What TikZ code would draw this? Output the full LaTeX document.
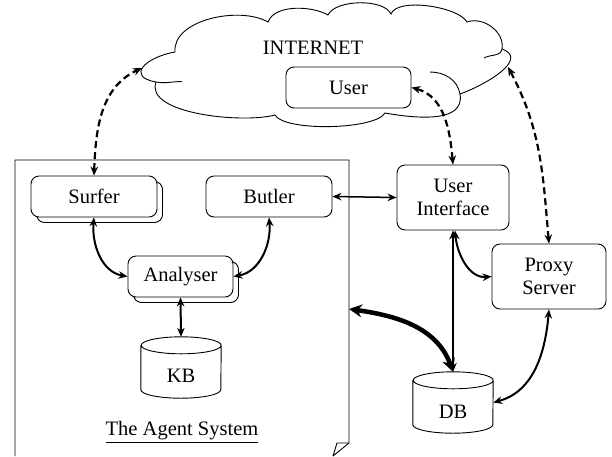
\documentclass[tikz,border=0pt]{standalone}
\usepackage{fontspec}
\setmainfont{Liberation Serif}
\usetikzlibrary{arrows.meta,shadows}
\begin{document}
\begin{tikzpicture}[x=1pt,y=1pt,
  font=\fontsize{20.5}{23}\selectfont,
  box/.style={draw, rounded corners=8pt, line width=0.9pt, fill=white, inner sep=0pt, align=center},
  shbox/.style={box, copy shadow={shadow xshift=5.5pt, shadow yshift=-5.5pt}},
  cylbox/.style={inner sep=0pt, minimum width=80pt, minimum height=61pt},
  conn/.style={line width=2pt, {Stealth[length=9pt,width=7.5pt]}-{Stealth[length=9pt,width=7.5pt]}},
  dconn/.style={conn, line width=2.2pt, dash pattern=on 7pt off 4pt},
  thickconn/.style={line width=4.5pt, {Stealth[length=13pt,width=13pt]}-{Stealth[length=13pt,width=13pt]}},
  outline/.style={line width=0.9pt}
]
\useasboundingbox (0,0) rectangle (612,-456);

% cloud outline
\coordinate (pA) at (156,-82);
\coordinate (pB) at (175,-52);
\coordinate (pC) at (268,-22);
\coordinate (pD) at (328,-15);
\coordinate (pE) at (391,-14);
\coordinate (pF) at (467,-22);
\coordinate (pG) at (502,-49);
\coordinate (pH) at (460,-94);
\coordinate (pJ) at (385,-113);
\coordinate (pK) at (275,-115);
\draw[outline]
  (pA) to[out=170, in=190, looseness=2.2] (pB)
       to[out=95, in=150, looseness=0.85] (pC)
       to[out=70, in=150, looseness=0.8] (pD)
       to[out=65, in=115, looseness=0.7] (pE)
       to[out=70, in=120, looseness=0.6] (pF)
       to[out=20, in=80] (pG)
       to[out=-20, in=20, looseness=1.2] (pH)
       to[out=-80, in=-10] (pJ)
       to[out=-120, in=-60, looseness=0.45] (pK)
       to[out=195, in=250, looseness=0.7] (pA);
% interior strokes of the cloud
\draw[outline] (pA) to[out=-10, in=180] (182,-81.5);
\draw[outline] (430,-72) to[out=0, in=100] (pH);
\draw[outline] (pG) to[out=-100, in=30] (484,-58);
\coordinate (cl) at (142,-68);
\coordinate (cr) at (508,-67);
\node (internet) at (313,-48) {INTERNET};
\node[box, minimum width=125pt, minimum height=41pt] (user) at (348.5,-87.5) {User};

% agent system page
\draw[outline] (15,-456) -- (15,-160) -- (349,-160) -- (349,-443) -- (333,-456);
\draw[outline] (349,-443) -- (337,-443) -- (333,-456);
\coordinate (agentR) at (349,-309);
\node (agentlabel) at (182,-432) {\underline{The Agent System}};

% agent nodes
\node[shbox, minimum width=126pt, minimum height=41pt] (surfer) at (94,-196.5) {Surfer};
\node[box, minimum width=126pt, minimum height=41pt] (butler) at (269,-196.5) {Butler};
\node[shbox, minimum width=105pt, minimum height=41pt] (analyser) at (180.5,-276.5) {Analyser};
\node[cylbox] (kb) at (181,-367.5) {\rule{0pt}{31pt}KB};
\draw[outline] ([yshift=-8.5pt]kb.north west) -- ([yshift=8.5pt]kb.south west)
  arc[start angle=180, end angle=360, x radius=40pt, y radius=8.5pt]
  -- ([yshift=-8.5pt]kb.north east)
  arc[start angle=0, end angle=360, x radius=40pt, y radius=8.5pt];

% right side nodes
\node[box, minimum width=112pt, minimum height=65pt] (ui) at (453,-197.5) {User\\Interface};
\node[box, minimum width=114pt, minimum height=65pt] (proxy) at (549,-276.5) {Proxy\\Server};
\node[cylbox] (db) at (453,-402.5) {\rule{0pt}{33pt}DB};
\draw[outline] ([yshift=-8.5pt]db.north west) -- ([yshift=8.5pt]db.south west)
  arc[start angle=180, end angle=360, x radius=40pt, y radius=8.5pt]
  -- ([yshift=-8.5pt]db.north east)
  arc[start angle=0, end angle=360, x radius=40pt, y radius=8.5pt];

% dashed links to internet
\draw[dconn] (surfer.north) to[out=88, in=205] (cl);
\draw[dconn] (ui.north) to[out=95, in=-15] (user.east);
\draw[dconn] (proxy.north) to[out=95, in=-62] (cr);

% solid links
\draw[conn, line width=1.5pt] (butler.east) -- (ui.west);
\draw[conn] (surfer.south) to[out=-95, in=170] (analyser.west);
\draw[conn] (butler.south) to[out=-85, in=10] (analyser.east);
\draw[conn] (analyser.south) -- (kb.north);
\draw[conn, line width=2.4pt] (ui.south) -- (db.north);
\draw[conn] ([xshift=2pt]ui.south) to[out=-85, in=185] (proxy.west);
\draw[thickconn] (agentR) to[out=-8, in=110] (db.north);
\draw[conn] (proxy.south) to[out=-95, in=15] (db.east);
\end{tikzpicture}
\end{document}
